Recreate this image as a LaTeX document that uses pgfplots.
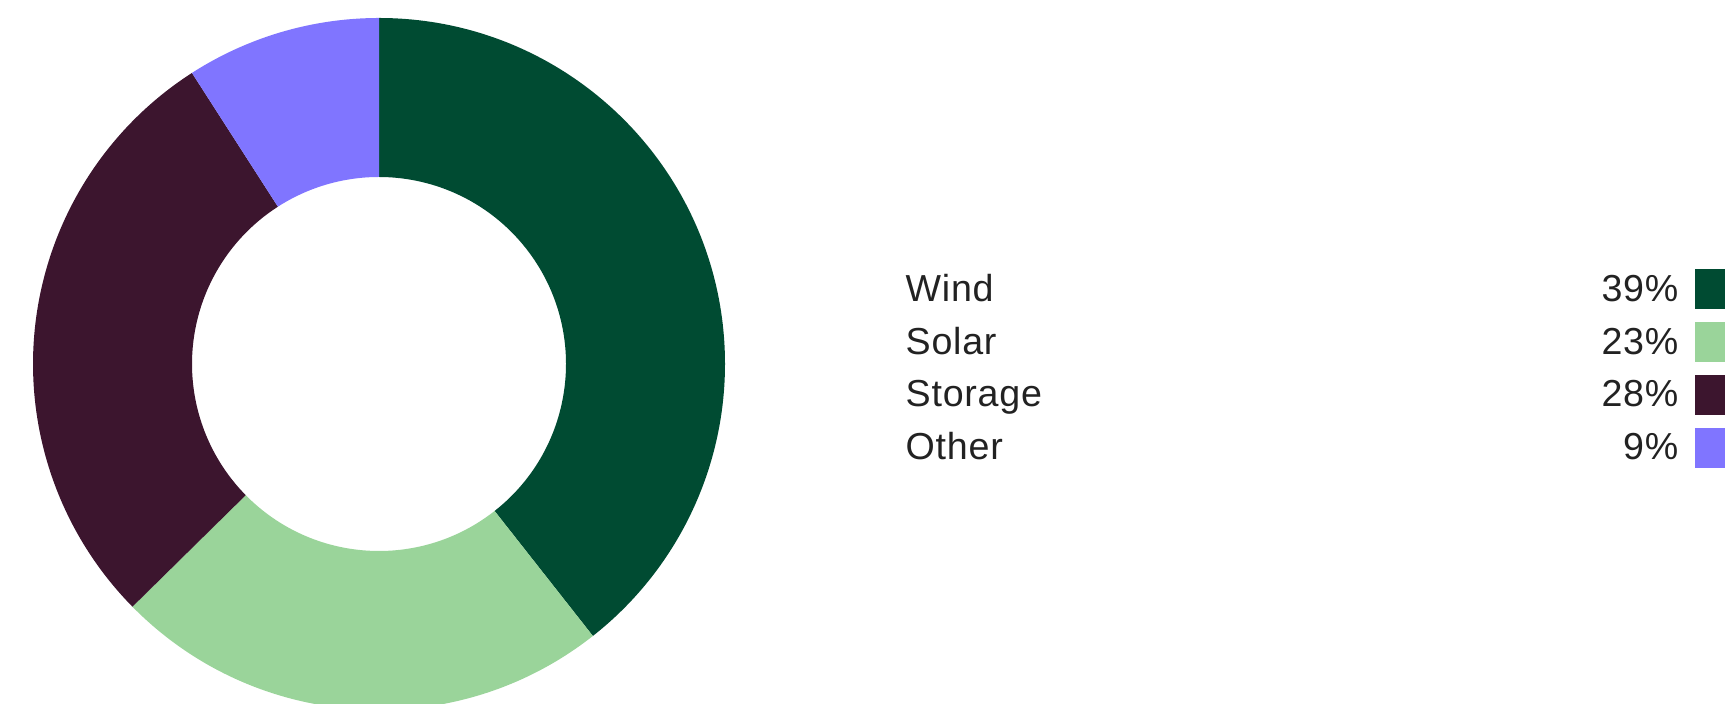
\documentclass[border=0pt]{standalone}
\usepackage{pgfplots}
\usepackage{pgfplotstable}
\pgfplotsset{compat=1.18}
\usepackage{fontspec}
\setmainfont[LetterSpace=2]{Liberation Sans}
\definecolor{cwind}{HTML}{004B32}
\definecolor{csolar}{HTML}{9AD49A}
\definecolor{cstorage}{HTML}{3C152E}
\definecolor{cother}{HTML}{8075FF}
\definecolor{txt}{HTML}{222222}
\newcommand\legfont{\fontsize{10.7pt}{12.8pt}\selectfont}
\pgfplotstableread{
label value col
Wind 39 cwind
Solar 23 csolar
Storage 28 cstorage
Other 9 cother
}\shares
\begin{document}
\begin{tikzpicture}
\begin{axis}[x=0.1mm,y=0.1mm,xmin=0,xmax=1725,ymin=0,ymax=704,hide axis,clip=true]
\path (axis cs:0,0) rectangle (axis cs:1725,704);
\pgfplotstablegetrowsof{\shares}
\pgfmathtruncatemacro\lastrow{\pgfplotsretval-1}
\def\total{0}
\pgfplotsforeachungrouped \k in {0,...,\lastrow}{%
  \pgfplotstablegetelem{\k}{value}\of\shares
  \pgfmathsetmacro\total{\total+\pgfplotsretval}%
}
\def\cum{0}
\pgfplotsforeachungrouped \k in {0,...,\lastrow}{%
  \pgfplotstablegetelem{\k}{value}\of\shares \let\val\pgfplotsretval
  \pgfplotstablegetelem{\k}{label}\of\shares \let\lab\pgfplotsretval
  \pgfplotstablegetelem{\k}{col}\of\shares \let\col\pgfplotsretval
  \pgfmathsetmacro\aone{90-\cum/\total*360}%
  \pgfmathsetmacro\atwo{90-(\cum+\val)/\total*360}%
  \pgfmathsetmacro\cum{\cum+\val}%
  \pgfmathsetmacro\xout{379+346*cos(\aone)}%
  \pgfmathsetmacro\yout{340+346*sin(\aone)}%
  \pgfmathsetmacro\xin{379+187*cos(\atwo)}%
  \pgfmathsetmacro\yin{340+187*sin(\atwo)}%
  \pgfmathsetmacro\yb{704-301.7-52.6*\k}%
  \pgfmathsetmacro\yst{704-269-53*\k}%
  \pgfmathsetmacro\ysb{704-309-53*\k}%
  \edef\temp{%
    \noexpand\fill[\col] (axis cs:\xout,\yout) arc[start angle=\aone, end angle=\atwo, radius=34.6mm] -- (axis cs:\xin,\yin) arc[start angle=\atwo, end angle=\aone, radius=18.7mm] -- cycle;
    \noexpand\node[anchor=base west, inner sep=0pt, text=txt, font=\noexpand\legfont] at (axis cs:905,\yb) {\lab};
    \noexpand\node[anchor=base east, inner sep=0pt, text=txt, font=\noexpand\legfont] at (axis cs:1679,\yb) {\val\noexpand\%};
    \noexpand\fill[\col] (axis cs:1695,\yst) rectangle (axis cs:1735,\ysb);
  }\temp
}
\end{axis}
\end{tikzpicture}
\end{document}
